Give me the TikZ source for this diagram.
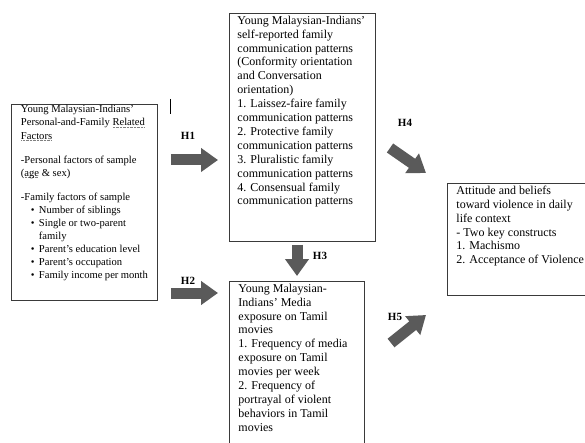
\documentclass[tikz,border=0pt]{standalone}
\usepackage{fontspec}
\usetikzlibrary{arrows.meta}
\setmainfont{Liberation Serif}
\definecolor{arrowgrey}{HTML}{5A5A5A}
\definecolor{boxline}{HTML}{3A3A3A}
\newcommand{\boxtext}{\fontsize{12}{13.9}\selectfont\raggedright\hyphenpenalty=10000}
\newcommand{\famtext}{\fontsize{10.6}{13.1}\selectfont\raggedright\hyphenpenalty=10000}
\newcommand{\famitem}{\hspace*{10pt}\makebox[8pt][l]{\textbullet}}
\newcommand{\gramline}[1]{\leavevmode\setbox0=\hbox{#1}\rlap{\raisebox{-1.8pt}[0pt][0pt]{\color{gray}\hbox to \wd0{\leaders\hbox to 1.4pt{\hss\rule{0.7pt}{0.5pt}\hss}\hfill}}}\box0}
\hfuzz=60pt
\hbadness=10000

\begin{document}
\begin{tikzpicture}[x=1pt, y=-1pt,
    framebox/.style={draw=boxline, line width=0.9pt, inner xsep=9pt, inner ysep=2.5pt, anchor=north west},
    blockarrow/.style={draw=arrowgrey, line width=11pt, -{Triangle[length=17pt, width=23pt]}},
    hlabel/.style={font=\fontsize{11}{13}\selectfont\bfseries, inner sep=0pt}]
\useasboundingbox (0,0) rectangle (585,443);

% personal and family factors
\node[framebox, inner xsep=9.5pt, inner ysep=1pt] (fam) at (11,104) {%
    \begin{minipage}[t][194pt][t]{127pt}
        \famtext
        Young Malaysian-Indians'\\
        Personal-and-Family \gramline{Related}\\
        \gramline{Factors}\\[10.9pt]
        -Personal factors of sample\\
        (\gramline{age}\ \& sex)\\[10.9pt]
        -Family factors of sample\\
        \famitem Number of siblings\\
        \famitem Single or two-parent\\
        \hspace*{18pt}family\\
        \famitem Parent's education level\\
        \famitem Parent's occupation\\
        \famitem Family income per month
    \end{minipage}
};

% family communication patterns
\node[framebox, inner xsep=8pt] (fcp) at (229,13) {%
    \begin{minipage}[t][223pt][t]{130pt}
        \boxtext
        Young Malaysian-Indians'\\
        self-reported family\\
        communication patterns\\
        (Conformity orientation\\
        and Conversation\\
        orientation)\\
        1. Laissez-faire family\\
        communication patterns\\
        2. Protective family\\
        communication patterns\\
        3. Pluralistic family\\
        communication patterns\\
        4. Consensual family\\
        communication patterns
    \end{minipage}
};

% media exposure (runs past the bottom edge)
\node[framebox] (media) at (229,281) {%
    \begin{minipage}[t][162pt][t]{117pt}
        \boxtext
        Young Malaysian-\\
        Indians' Media\\
        exposure on Tamil\\
        movies\\
        1. Frequency of media\\
        exposure on Tamil\\
        movies per week\\
        2. Frequency of\\
        portrayal of violent\\
        behaviors in Tamil\\
        movies
    \end{minipage}
};

% attitude towards violence (runs past the right edge)
\node[framebox] (att) at (447,183) {%
    \begin{minipage}[t][107pt][t]{134pt}
        \boxtext
        Attitude and beliefs\\
        toward violence in daily\\
        life context\\
        - Two key constructs\\
        1. Machismo\\
        2. Acceptance of Violence
    \end{minipage}
};

\coordinate (h1) at (0,160);
\coordinate (h2) at (0,293);
\coordinate (h3) at (297,0);
\coordinate (h4s) at (390,148);
\coordinate (h4e) at (426,173);
\coordinate (h5s) at (391,343);
\coordinate (h5e) at (426,315);

\draw[blockarrow, shorten <=13pt, shorten >=11pt] (fam.east |- h1) -- (fcp.west |- h1);
\draw[blockarrow, shorten <=13pt, shorten >=11pt] (fam.east |- h2) -- (media.west |- h2);
\draw[blockarrow, shorten <=3pt, shorten >=5pt] (fcp.south -| h3) -- (media.north -| h3);
\draw[blockarrow] (h4s) -- (h4e);
\draw[blockarrow] (h5s) -- (h5e);

\node[hlabel] (h1lab) at (188,136) {H1};
\node[hlabel] (h2lab) at (188,281) {H2};
\node[hlabel] (h3lab) at (320,256) {H3};
\node[hlabel] (h4lab) at (405,123) {H4};
\node[hlabel] (h5lab) at (395,317) {H5};

\draw[line width=0.8pt] (170,99) -- (170,114);
\end{tikzpicture}
\end{document}
